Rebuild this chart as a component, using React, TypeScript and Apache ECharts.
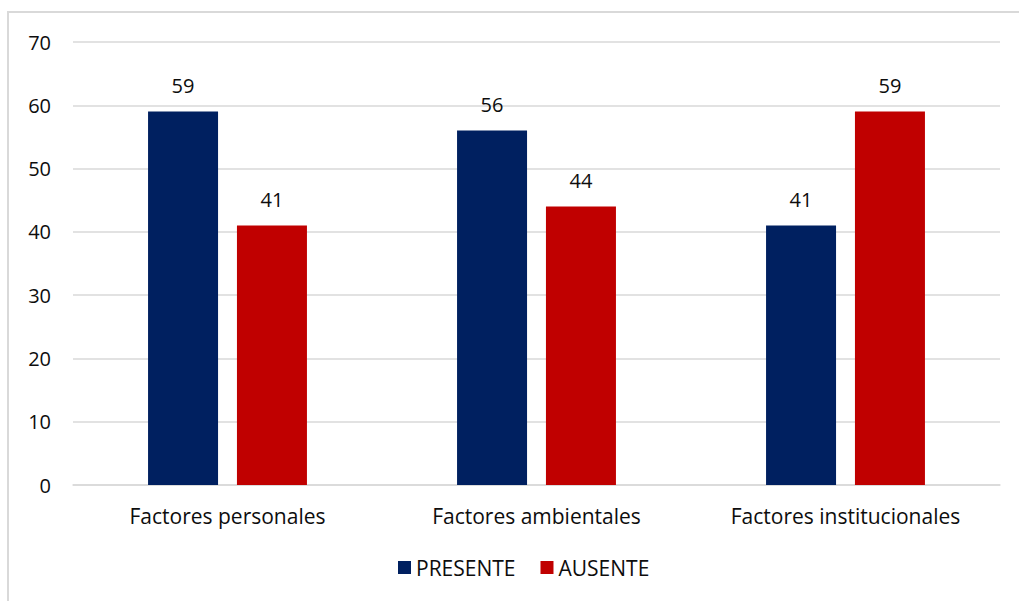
import React, { useEffect, useRef } from "react";
import * as echarts from "echarts";

const categories = ["Factores personales", "Factores ambientales", "Factores institucionales"];
const presente = [59, 56, 41];
const ausente = [41, 44, 59];
const seriesNames = ["PRESENTE", "AUSENTE"];

const FONT = "'Open Sans', 'Liberation Sans', sans-serif";
const TXT = "#0d0d0d";

export default function App() {
  const ref = useRef<HTMLDivElement>(null);
  useEffect(() => {
    if (!ref.current) return;
    const chart = echarts.init(ref.current, null, { renderer: "svg" });
    chart.setOption({
      animation: false,
      backgroundColor: "#ffffff",
      textStyle: { fontFamily: FONT },
      graphic: [
        {
          type: "rect",
          shape: { x: 8, y: 12, width: 1040, height: 620 },
          style: { fill: "none", stroke: "#d9d9d9", lineWidth: 2 },
          silent: true,
        },
      ],
      grid: { left: 73, right: 19, top: 42, bottom: 116, containLabel: false },
      legend: {
        data: seriesNames,
        bottom: 18,
        left: 393,
        itemWidth: 13,
        itemHeight: 13,
        itemGap: 25,
        icon: "rect",
        textStyle: { fontSize: 21, color: TXT, fontFamily: FONT },
      },
      xAxis: {
        type: "category",
        data: categories,
        axisTick: { show: false },
        axisLine: { lineStyle: { color: "#d9d9d9", width: 1.5 } },
        axisLabel: { fontSize: 21, color: TXT, margin: 20, fontFamily: FONT },
      },
      yAxis: {
        type: "value",
        min: 0,
        max: 70,
        interval: 10,
        axisLine: { show: false },
        axisTick: { show: false },
        splitLine: { lineStyle: { color: "#d9d9d9", width: 1.5 } },
        axisLabel: { fontSize: 20, color: TXT, margin: 22, fontFamily: FONT },
      },
      series: [
        {
          name: seriesNames[0],
          type: "bar",
          data: presente,
          barWidth: 70,
          barGap: "27%",
          itemStyle: { color: "#002060" },
          label: { show: true, position: "top", distance: 16, fontSize: 20, color: TXT, fontFamily: FONT },
        },
        {
          name: seriesNames[1],
          type: "bar",
          data: ausente,
          barWidth: 70,
          barGap: "27%",
          itemStyle: { color: "#C00000" },
          label: { show: true, position: "top", distance: 16, fontSize: 20, color: TXT, fontFamily: FONT },
        },
      ],
    });
    return () => chart.dispose();
  }, []);
  return (
    <div
      ref={ref}
      style={{ position: "absolute", left: 0, top: 0, width: 1019, height: 601 }}
    />
  );
}
